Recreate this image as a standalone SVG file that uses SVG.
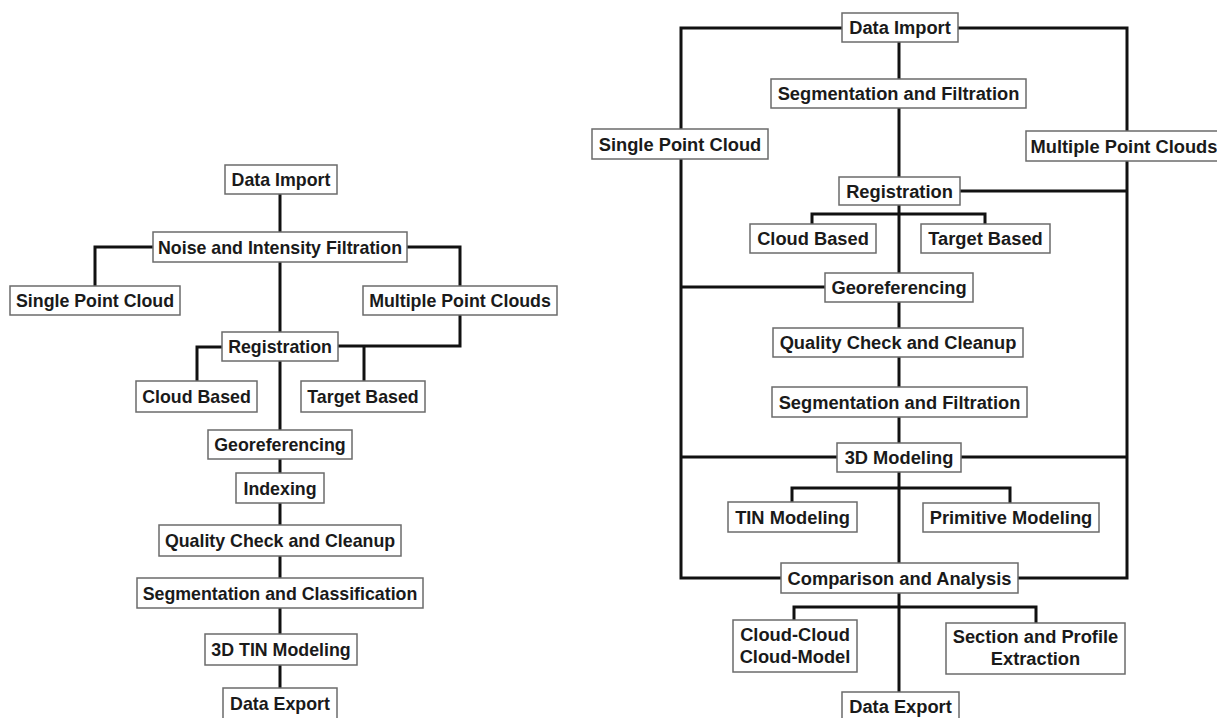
<svg xmlns="http://www.w3.org/2000/svg" width="1217" height="718" viewBox="0 0 1217 718">
<style>
.box{fill:#fff;stroke:#6b6b6b;stroke-width:1.5}
.lbl{font-family:"Liberation Sans",Arial,sans-serif;font-weight:bold;font-size:17.8px;fill:#1a1a1a;text-anchor:middle}
.r .lbl{font-size:18.3px}
.conn{fill:none;stroke:#111;stroke-width:3;stroke-linejoin:miter}
</style>
<rect width="1217" height="718" fill="#fff"/>
<g id="connectors" class="conn">
<path d="M280,194V232"/>
<path d="M153,247H95V286"/>
<path d="M407,247H460V286"/>
<path d="M280,262V332"/>
<path d="M460,315V346H338"/>
<path d="M364,346V381"/>
<path d="M222,347H197V381"/>
<path d="M280,361V430"/>
<path d="M280,459V473"/>
<path d="M280,503V525"/>
<path d="M280,556V578"/>
<path d="M280,608V634"/>
<path d="M280,665V688"/>
<path d="M842,28H681V129"/>
<path d="M958,28H1127V131"/>
<path d="M899,42V79"/>
<path d="M899,108V177"/>
<path d="M681,159V578H781"/>
<path d="M1127,161V578H1018"/>
<path d="M960,191H1127"/>
<path d="M899,205V273"/>
<path d="M812,224V214H985V224"/>
<path d="M825,287H681"/>
<path d="M899,302V328"/>
<path d="M899,357V387"/>
<path d="M899,417V443"/>
<path d="M837,457H681"/>
<path d="M961,457H1127"/>
<path d="M899,472V563"/>
<path d="M792,502V488H1010V503"/>
<path d="M899,593V692"/>
<path d="M794,620V607H1036V623"/>
</g>
<g id="left">
<g id="L-import"><rect class="box" x="225" y="165" width="112" height="29"/><text class="lbl" x="281" y="186">Data Import</text></g>
<g id="L-noise"><rect class="box" x="153" y="232" width="254" height="30"/><text class="lbl" x="280" y="253.5">Noise and Intensity Filtration</text></g>
<g id="L-single"><rect class="box" x="10" y="286" width="170" height="29"/><text class="lbl" x="95" y="307">Single Point Cloud</text></g>
<g id="L-multiple"><rect class="box" x="363" y="286" width="194" height="29"/><text class="lbl" x="460" y="307">Multiple Point Clouds</text></g>
<g id="L-registration"><rect class="box" x="222" y="332" width="116" height="29"/><text class="lbl" x="280" y="353">Registration</text></g>
<g id="L-cloud"><rect class="box" x="136" y="381" width="121" height="31"/><text class="lbl" x="196.5" y="403">Cloud Based</text></g>
<g id="L-target"><rect class="box" x="301" y="381" width="124" height="31"/><text class="lbl" x="363" y="403">Target Based</text></g>
<g id="L-georef"><rect class="box" x="208" y="430" width="144" height="29"/><text class="lbl" x="280" y="451">Georeferencing</text></g>
<g id="L-indexing"><rect class="box" x="236" y="473" width="88" height="30"/><text class="lbl" x="280" y="494.5">Indexing</text></g>
<g id="L-qc"><rect class="box" x="159" y="525" width="242" height="31"/><text class="lbl" x="280" y="547">Quality Check and Cleanup</text></g>
<g id="L-seg"><rect class="box" x="137" y="578" width="286" height="30"/><text class="lbl" x="280" y="599.5">Segmentation and Classification</text></g>
<g id="L-tin"><rect class="box" x="205" y="634" width="152" height="31"/><text class="lbl" x="281" y="656">3D TIN Modeling</text></g>
<g id="L-export"><rect class="box" x="223" y="688" width="114" height="32"/><text class="lbl" x="280" y="710">Data Export</text></g>
</g>
<g id="right" class="r">
<g id="R-import"><rect class="box" x="842" y="13" width="116" height="29"/><text class="lbl" x="900" y="34">Data Import</text></g>
<g id="R-seg1"><rect class="box" x="771" y="79" width="255" height="29"/><text class="lbl" x="898.5" y="100">Segmentation and Filtration</text></g>
<g id="R-single"><rect class="box" x="592" y="129" width="176" height="30"/><text class="lbl" x="680" y="150.5">Single Point Cloud</text></g>
<g id="R-multiple"><rect class="box" x="1026" y="131" width="196" height="30"/><text class="lbl" x="1124" y="152.5">Multiple Point Clouds</text></g>
<g id="R-registration"><rect class="box" x="839" y="177" width="121" height="28"/><text class="lbl" x="899.5" y="197.5">Registration</text></g>
<g id="R-cloud"><rect class="box" x="750" y="224" width="126" height="29"/><text class="lbl" x="813" y="245">Cloud Based</text></g>
<g id="R-target"><rect class="box" x="921" y="224" width="129" height="29"/><text class="lbl" x="985.5" y="245">Target Based</text></g>
<g id="R-georef"><rect class="box" x="825" y="273" width="148" height="29"/><text class="lbl" x="899" y="294">Georeferencing</text></g>
<g id="R-qc"><rect class="box" x="773" y="328" width="250" height="29"/><text class="lbl" x="898" y="349">Quality Check and Cleanup</text></g>
<g id="R-seg2"><rect class="box" x="772" y="387" width="255" height="30"/><text class="lbl" x="899.5" y="408.5">Segmentation and Filtration</text></g>
<g id="R-3d"><rect class="box" x="837" y="443" width="124" height="29"/><text class="lbl" x="899" y="464">3D Modeling</text></g>
<g id="R-tin"><rect class="box" x="728" y="502" width="129" height="30"/><text class="lbl" x="792.5" y="523.5">TIN Modeling</text></g>
<g id="R-prim"><rect class="box" x="923" y="503" width="176" height="29"/><text class="lbl" x="1011" y="524">Primitive Modeling</text></g>
<g id="R-comp"><rect class="box" x="781" y="563" width="237" height="30"/><text class="lbl" x="899.5" y="584.5">Comparison and Analysis</text></g>
<g id="R-cc"><rect class="box" x="733" y="620" width="124" height="52"/><text class="lbl" x="795" y="641">Cloud-Cloud</text><text class="lbl" x="795" y="663">Cloud-Model</text></g>
<g id="R-section"><rect class="box" x="946" y="623" width="179" height="51"/><text class="lbl" x="1035.5" y="643">Section and Profile</text><text class="lbl" x="1035.5" y="665">Extraction</text></g>
<g id="R-export"><rect class="box" x="842" y="692" width="117" height="30"/><text class="lbl" x="900.5" y="713">Data Export</text></g>
</g>
</svg>
